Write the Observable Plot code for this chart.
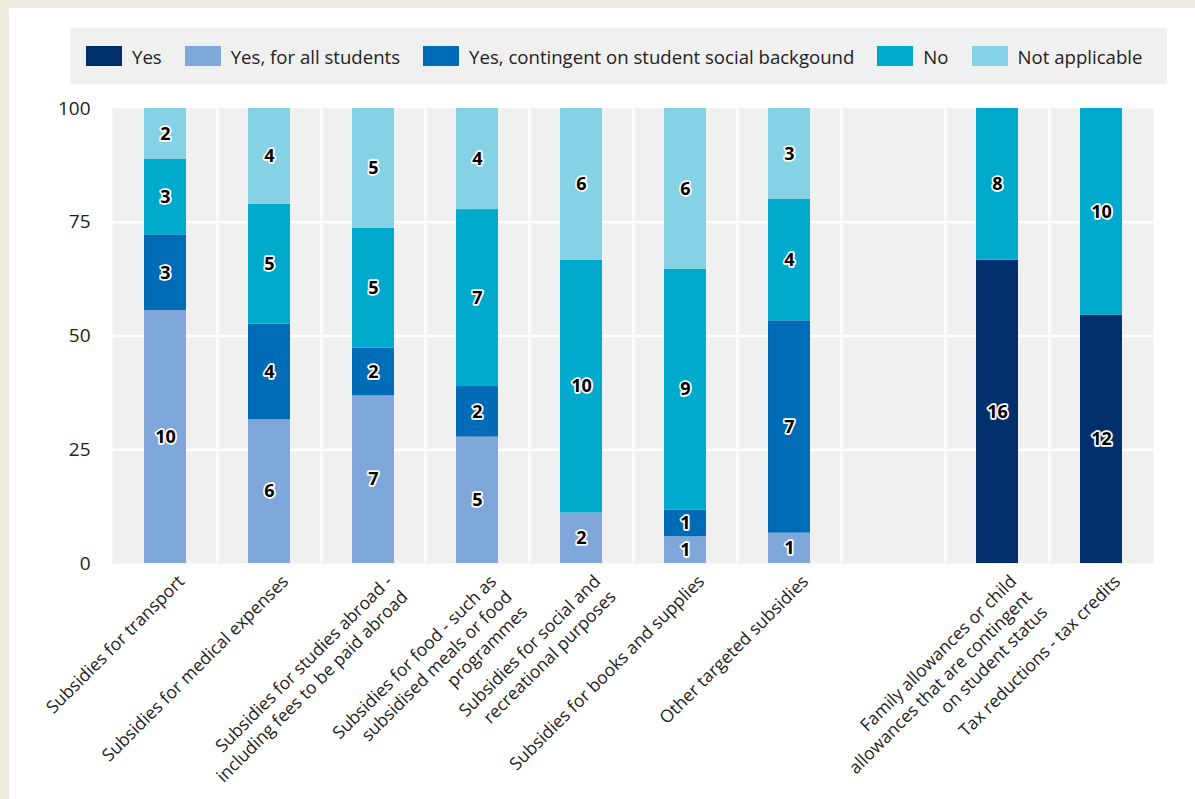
<!DOCTYPE html>
<html>
<head>
<meta charset="utf-8">
<script src="https://cdn.jsdelivr.net/npm/d3@7"></script>
<script src="https://cdn.jsdelivr.net/npm/@observablehq/plot@0.6"></script>
<style>
  html, body { margin: 0; padding: 0; }
  body { width: 1195px; height: 799px; background: #edebe0; position: relative; overflow: hidden; font-family: "Open Sans", sans-serif; }
  #panel { position: absolute; left: 9px; top: 8px; right: 0; bottom: 0; background: #ffffff; }
  #legend { position: absolute; left: 70px; top: 28px; width: 1097px; height: 56px; background: #f0f0f0;
            display: flex; align-items: center; box-sizing: border-box; padding-left: 16px; }
  .item { display: flex; align-items: center; margin-right: 23px; font-size: 18.6px; color: #222; white-space: nowrap; }
  .sw { width: 36px; height: 20px; margin-right: 10px; }
  #chart { position: absolute; left: 0; top: 90px; }
</style>
</head>
<body>
<div id="panel"></div>
<div id="legend"></div>
<div id="chart"></div>
<script>
const categories = [
  "Subsidies for transport",
  "Subsidies for medical expenses",
  "Subsidies for studies abroad -\nincluding fees to be paid abroad",
  "Subsidies for food - such as\nsubsidised meals or food\nprogrammes",
  "Subsidies for social and\nrecreational purposes",
  "Subsidies for books and supplies",
  "Other targeted subsidies",
  "",
  "Family allowances or child\nallowances that are contingent\non student status",
  "Tax reductions - tax credits"
];
const seriesNames = ["Yes", "Yes, for all students", "Yes, contingent on student social backgound", "No", "Not applicable"];
const seriesColors = ["#002f6c", "#7fa7d9", "#006bb6", "#00aacc", "#85d2e5"];
const yes      = [0, 0, 0, 0, 0, 0, 0, 0, 16, 12];
const yesAll   = [10, 6, 7, 5, 2, 1, 1, 0, 0, 0];
const yesCont  = [3, 4, 2, 2, 0, 1, 7, 0, 0, 0];
const no       = [3, 5, 5, 7, 10, 9, 4, 0, 8, 10];
const notAppl  = [2, 4, 5, 4, 6, 6, 3, 0, 0, 0];
const yTicks = [0, 25, 50, 75, 100];

const seriesValues = [yes, yesAll, yesCont, no, notAppl];
const data = [];
categories.forEach((c, i) => {
  seriesNames.forEach((s, j) => {
    if (seriesValues[j][i] > 0) data.push({category: c, series: s, value: seriesValues[j][i]});
  });
});

// legend
const legend = document.getElementById("legend");
seriesNames.forEach((s, j) => {
  const it = document.createElement("div");
  it.className = "item";
  const sw = document.createElement("div");
  sw.className = "sw";
  sw.style.background = seriesColors[j];
  const t = document.createElement("span");
  t.textContent = s;
  it.appendChild(sw); it.appendChild(t);
  legend.appendChild(it);
});

const W = 1195, H = 709;
const mL = 112, mR = 42, mT = 18, mB = 236;
const step = (W - mL - mR) / categories.length;

const stackOpts = {x: "category", y: "value", z: "series", offset: "normalize", order: seriesNames};

const chart = Plot.plot({
  width: W, height: H,
  marginLeft: mL, marginRight: mR, marginTop: mT, marginBottom: mB,
  style: {background: "transparent", fontFamily: "Open Sans, sans-serif"},
  x: {domain: categories, paddingInner: 0.6, paddingOuter: 0.3, axis: null},
  y: {domain: [0, 1], axis: null},
  color: {domain: seriesNames, range: seriesColors},
  marks: [
    Plot.frame({fill: "#f0f0f0", stroke: null}),
    Plot.gridY(yTicks.filter(d => d > 0 && d < 100).map(d => d / 100), {stroke: "white", strokeOpacity: 1, strokeWidth: 2.5}),
    Plot.ruleX(categories.slice(1), {x: d => d, dx: -step / 2, stroke: "white", strokeWidth: 2.5}),
    Plot.barY(data, Plot.stackY({...stackOpts, fill: "series"})),
    Plot.text(data, Plot.stackY({...stackOpts, text: "value", fill: "black", stroke: "white", strokeWidth: 3.5, fontWeight: "bold", fontSize: 18})),
    Plot.axisY(yTicks.map(d => d / 100), {label: null, tickFormat: d => Math.round(d * 100), tickSize: 0, tickPadding: 22, fontSize: 19, fill: "#222"}),
    Plot.text(categories, {x: d => d, text: d => d, frameAnchor: "bottom", rotate: -45, textAnchor: "end", lineAnchor: "top", lineHeight: 1.25, dx: 9, dy: 8, fontSize: 17.5, fill: "#222"})
  ]
});
document.getElementById("chart").appendChild(chart);
</script>
</body>
</html>
